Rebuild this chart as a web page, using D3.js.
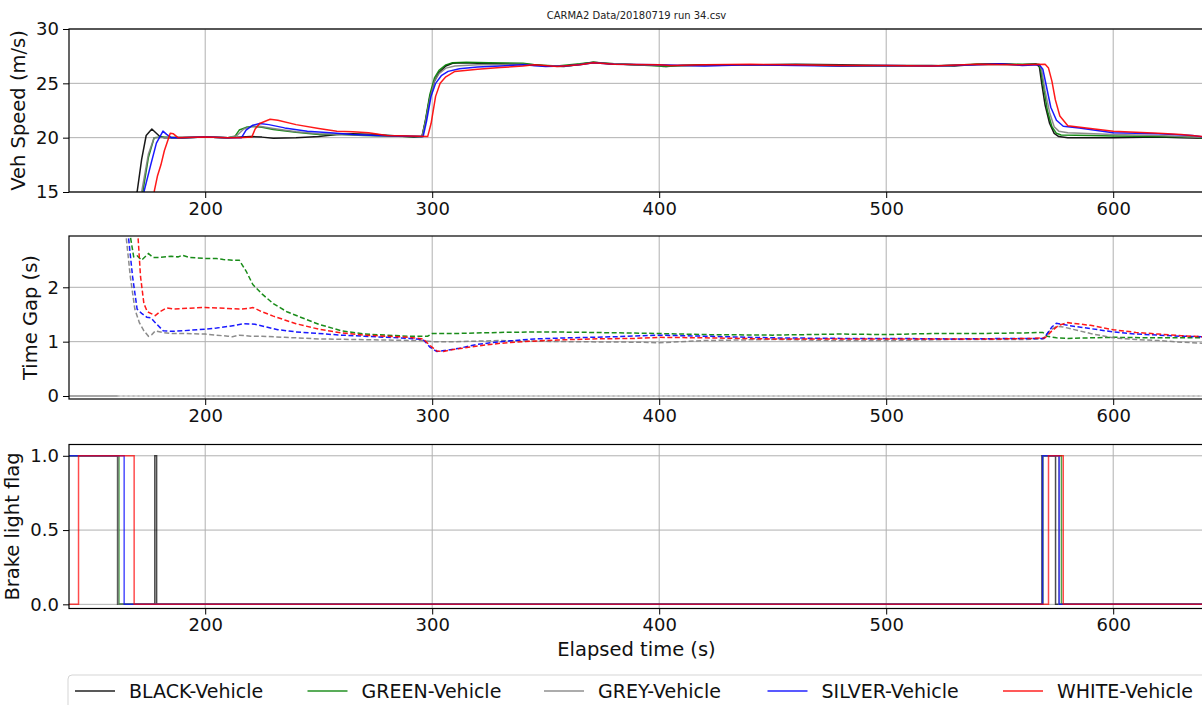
<!DOCTYPE html>
<html><head><meta charset="utf-8">
<script src="https://cdn.jsdelivr.net/npm/d3@7"></script>
<style>
body{margin:0;background:#fff;}
svg{display:block;font-family:"DejaVu Sans",sans-serif;}
</style></head>
<body><svg id="chart" width="1202" height="705"></svg>
<script>
// ---------------- DATA ----------------
const vehicles = ["BLACK-Vehicle","GREEN-Vehicle","GREY-Vehicle","SILVER-Vehicle","WHITE-Vehicle"];
const vehicleColors = ["#000000","#008000","#808080","#0000ff","#ff0000"];
const titleText = "CARMA2 Data/20180719 run 34.csv";
const xTicks = [200,300,400,500,600];
const speedTicks = [15,20,25,30];
const gapTicks = [0,1,2];
const brakeTicks = [0,0.5,1];

// Veh Speed (m/s): [time, value]
const speedBlack = [[160,8],[166,12],[170,15],[172,18],[174,20.2],[176.5,20.8],[178,20.5],[180,20.1],[182,20.0],[190,20.0],[200,20.05],[210,20.0],[220,20.1],[225,20.05],[230,19.95],[240,20.0],[250,20.1],[258,20.3],[265,20.35],[275,20.3],[285,20.15],[292,20.05],[295.5,20.1],[297,21.5],[299,23.8],[301,25.2],[303,26.0],[306,26.6],[309,26.85],[313,26.9],[320,26.85],[330,26.8],[340,26.75],[345,26.7],[350,26.6],[358,26.55],[365,26.75],[371,26.95],[378,26.8],[390,26.7],[400,26.65],[403,26.55],[410,26.65],[420,26.7],[440,26.7],[460,26.75],[480,26.7],[500,26.65],[520,26.65],[530,26.6],[540,26.75],[550,26.8],[560,26.7],[566,26.8],[567.5,26.5],[568.5,25],[570,23],[572,21.3],[574,20.4],[576,20.1],[580,20.0],[600,20.0],[620,20.05],[630,20.0],[640,19.95]];
const speedGreen = [[160,8],[168,12],[172.5,15],[175,18.2],[177.5,20.0],[180,20.05],[190,20.0],[200,20.05],[210,20.0],[213,20.1],[215,20.7],[218,20.95],[221,21.05],[225,20.95],[230,20.75],[240,20.5],[250,20.3],[260,20.3],[270,20.2],[280,20.15],[290,20.1],[295.5,20.1],[297,21.6],[299,24.0],[301,25.5],[303,26.2],[306,26.7],[309,26.9],[315,26.95],[325,26.9],[340,26.85],[345,26.7],[355,26.6],[365,26.8],[371,26.95],[380,26.8],[400,26.6],[402,26.55],[410,26.65],[430,26.7],[460,26.7],[480,26.6],[500,26.6],[520,26.6],[540,26.75],[560,26.75],[567,26.75],[568,26.3],[569.5,24.5],[571,22.5],[573,21.0],[575,20.4],[577,20.25],[590,20.2],[600,20.15],[620,20.1],[635,20.05],[640,19.95]];
const speedGrey = [[160,8],[168,12],[172,15],[175,18.5],[177.5,20.0],[190,20.05],[200,20.05],[210,20.0],[214,20.2],[217,20.8],[220,21.0],[224,21.05],[230,20.85],[240,20.55],[250,20.35],[260,20.3],[270,20.25],[285,20.15],[295.5,20.1],[297,21.4],[299,23.6],[301,25.2],[303,25.9],[306,26.4],[310,26.6],[320,26.7],[340,26.75],[345,26.65],[360,26.6],[371,26.9],[390,26.7],[410,26.6],[440,26.7],[480,26.65],[520,26.6],[540,26.7],[560,26.7],[567.5,26.75],[568.5,26.2],[570,24.3],[572,22.3],[574,21.0],[576,20.6],[580,20.45],[600,20.3],[620,20.2],[640,20.0]];
const speedSilver = [[160,8],[169,12],[173,15],[176,17.5],[178.5,19.5],[181.4,20.6],[183,20.3],[185,20.0],[190,20.0],[200,20.05],[210,20.0],[216,20.0],[218,20.7],[221,21.15],[224,21.3],[228,21.2],[235,20.9],[245,20.6],[255,20.45],[265,20.3],[275,20.2],[285,20.15],[296,20.1],[297.5,21.5],[299.5,23.8],[301.5,25.0],[304,25.7],[307,26.1],[312,26.35],[320,26.5],[330,26.6],[340,26.7],[350,26.55],[358,26.6],[365,26.7],[371,26.9],[380,26.75],[400,26.7],[420,26.6],[440,26.7],[460,26.65],[480,26.6],[500,26.65],[520,26.6],[540,26.7],[550,26.8],[560,26.65],[567.5,26.7],[569,26.3],[570.5,24.8],[572.5,22.8],[575,21.6],[578,21.05],[585,20.9],[600,20.45],[620,20.35],[635,20.2],[640,20.05]];
const speedWhite = [[160,6],[172,12],[177.5,15],[179,16.5],[180.5,17.5],[182,18.8],[184.6,20.4],[186,20.35],[188,20.0],[200,20.05],[210,20.0],[215,20.0],[220.5,20.05],[222,20.8],[224,21.3],[228.6,21.7],[232,21.6],[240,21.2],[250,20.85],[258,20.6],[265,20.55],[272,20.45],[280,20.2],[290,20.15],[298,20.1],[299.5,21.3],[301.5,23.8],[303.5,25.0],[306,25.6],[310,26.1],[320,26.3],[330,26.45],[340,26.6],[345,26.7],[355,26.55],[365,26.7],[371,26.9],[380,26.75],[400,26.7],[405,26.65],[420,26.7],[440,26.75],[460,26.7],[480,26.65],[500,26.65],[520,26.6],[540,26.75],[560,26.7],[570,26.75],[571.5,26.4],[573,25.2],[574.5,23.5],[576.5,22.0],[580,21.1],[590,20.85],[600,20.6],[620,20.4],[630,20.3],[640,20.1]];

// Time Gap (s)
const gapBlackSolid = [[140,0],[161.4,0]];
const gapBlack = [[161.4,0],[640,0]];
const gapGreen = [[163,4],[166,3.2],[168.5,2.56],[170,2.58],[172,2.5],[175,2.62],[177,2.55],[180,2.55],[185,2.57],[188,2.56],[190,2.59],[193,2.55],[200,2.53],[205,2.53],[208,2.51],[212,2.5],[215,2.5],[218,2.3],[221,2.05],[225,1.88],[230,1.7],[236,1.55],[242,1.45],[250,1.32],[260,1.2],[270,1.14],[280,1.12],[290,1.1],[298,1.1],[300,1.15],[310,1.15],[330,1.17],[350,1.18],[370,1.17],[400,1.15],[420,1.13],[450,1.12],[480,1.14],[500,1.13],[520,1.15],[540,1.15],[560,1.16],[569,1.17],[571,1.1],[575,1.07],[580,1.06],[590,1.07],[600,1.08],[620,1.07],[640,1.07]];
const gapGrey = [[163,4],[165,3.0],[167,2.2],[169,1.6],[171,1.35],[173,1.2],[175,1.1],[176.5,1.13],[178,1.2],[181,1.17],[185,1.15],[190,1.15],[200,1.14],[205,1.12],[210,1.1],[212,1.09],[215,1.12],[220,1.1],[225,1.1],[235,1.08],[250,1.05],[265,1.04],[280,1.03],[295,1.02],[300,1.0],[310,1.0],[330,1.02],[360,1.0],[390,0.99],[400,0.98],[420,1.02],[450,1.04],[480,1.02],[500,1.02],[530,1.04],[560,1.04],[569,1.05],[572,1.2],[575,1.28],[578,1.27],[585,1.2],[590,1.15],[600,1.07],[610,1.04],[620,1.02],[630,0.99],[640,0.97]];
const gapSilver = [[164,4],[166,3.0],[168,2.2],[170,1.6],[172,1.52],[174.3,1.45],[176,1.44],[178,1.35],[181.5,1.2],[185,1.19],[190,1.2],[200,1.23],[205,1.25],[210,1.28],[213,1.3],[217,1.33],[222,1.32],[226,1.28],[232,1.22],[240,1.18],[250,1.15],[260,1.12],[270,1.1],[280,1.08],[290,1.06],[296,1.04],[299,0.9],[302,0.82],[306,0.84],[312,0.88],[320,0.95],[330,1.0],[345,1.05],[360,1.07],[380,1.09],[400,1.12],[420,1.1],[450,1.07],[480,1.06],[500,1.06],[530,1.05],[560,1.06],[569.5,1.06],[571,1.15],[573,1.27],[575,1.34],[580,1.3],[590,1.24],[600,1.18],[610,1.14],[620,1.12],[630,1.1],[640,1.09]];
const gapWhite = [[168,4],[170,3.2],[171.5,2.2],[173,1.7],[174.5,1.55],[176,1.52],[178,1.48],[180,1.55],[183,1.62],[186,1.6],[190,1.61],[200,1.63],[210,1.61],[215,1.6],[219,1.61],[221,1.63],[225,1.55],[230,1.47],[235,1.4],[240,1.33],[250,1.23],[260,1.16],[270,1.12],[280,1.1],[290,1.08],[296,1.05],[299,0.93],[302,0.83],[305,0.82],[310,0.86],[320,0.92],[330,0.97],[340,1.0],[355,1.03],[370,1.05],[390,1.06],[400,1.08],[420,1.07],[450,1.05],[480,1.05],[500,1.05],[520,1.05],[550,1.05],[565,1.06],[570,1.07],[573,1.2],[576,1.3],[580,1.35],[590,1.3],[600,1.22],[610,1.17],[620,1.14],[630,1.11],[640,1.09]];

// Brake light flag (step)
const brakeBlack = [[140,1],[161.4,0],[177.8,1],[178.6,0],[568.6,1],[574.6,0],[640,0]];
const brakeGreen = [[140,1],[162,0],[569,1],[577.2,0],[640,0]];
const brakeGrey = [[140,1],[161.7,0],[569,1],[576,0],[640,0]];
const brakeSilver = [[140,1],[164.3,0],[568.9,1],[576.2,0],[640,0]];
const brakeWhite = [[140,0],[144.2,1],[168.7,0],[571.5,1],[578,0],[640,0]];

const speedSeries = [speedBlack, speedGreen, speedGrey, speedSilver, speedWhite];
const gapSeries = [null, gapGreen, gapGrey, gapSilver, gapWhite];
const brakeSeries = [brakeBlack, brakeGreen, brakeGrey, brakeSilver, brakeWhite];

// ---------------- LAYOUT ----------------
const svg = d3.select("#chart");
const X0 = 69, X1 = 1204;
const x = d3.scaleLinear().domain([140,640]).range([X0,X1]);
const panels = [
  {top:29, bottom:192, domain:[15,30], ticks:speedTicks, fmt:d3.format("d"), label:"Veh Speed (m/s)", lx:18},
  {top:236, bottom:399, domain:[-0.055,2.944], ticks:gapTicks, fmt:d3.format("d"), label:"Time Gap (s)", lx:30},
  {top:444.5, bottom:608.5, domain:[-0.028,1.076], ticks:brakeTicks, fmt:d3.format(".1f"), label:"Brake light flag", lx:12}
];
const defs = svg.append("defs");
const ALPHA = 0.65;

panels.forEach((p,i)=>{
  p.y = d3.scaleLinear().domain(p.domain).range([p.bottom,p.top]);
  const g = svg.append("g");
  defs.append("clipPath").attr("id","clip"+i).append("rect")
    .attr("x",X0).attr("y",p.top).attr("width",X1-X0).attr("height",p.bottom-p.top);
  g.selectAll(".gx").data(xTicks).join("line")
    .attr("x1",d=>x(d)).attr("x2",d=>x(d)).attr("y1",p.top).attr("y2",p.bottom)
    .attr("stroke","#b0b0b0").attr("stroke-width",1);
  g.selectAll(".gy").data(p.ticks).join("line")
    .attr("x1",X0).attr("x2",X1).attr("y1",d=>p.y(d)).attr("y2",d=>p.y(d))
    .attr("stroke","#b0b0b0").attr("stroke-width",1);
  p.plot = svg.append("g").attr("clip-path",`url(#clip${i})`);
});

// speed lines
const lineSpeed = d3.line().x(d=>x(d[0])).y(d=>panels[0].y(d[1]));
speedSeries.forEach((s,k)=>{
  panels[0].plot.append("path").datum(s).attr("d",lineSpeed)
    .attr("fill","none").attr("stroke",vehicleColors[k]).attr("stroke-opacity",0.9)
    .attr("stroke-width",1.5).attr("stroke-linejoin","round");
});

// gap lines
const lineGap = d3.line().x(d=>x(d[0])).y(d=>panels[1].y(d[1]));
panels[1].plot.append("path").datum(gapBlackSolid).attr("d",lineGap)
  .attr("fill","none").attr("stroke","#000").attr("stroke-opacity",0.3).attr("stroke-width",1.5);
panels[1].plot.append("path").datum(gapBlack).attr("d",lineGap)
  .attr("fill","none").attr("stroke","#000").attr("stroke-opacity",0.22).attr("stroke-width",1)
  .attr("stroke-dasharray","2,3");
gapSeries.forEach((s,k)=>{
  if(!s) return;
  panels[1].plot.append("path").datum(s).attr("d",lineGap)
    .attr("fill","none").attr("stroke",vehicleColors[k]).attr("stroke-opacity",0.9)
    .attr("stroke-width",1.5).attr("stroke-dasharray","5,2.5");
});

// brake lines
const lineBrake = d3.line().curve(d3.curveStepAfter).x(d=>x(d[0])).y(d=>panels[2].y(d[1]));
brakeSeries.forEach((s,k)=>{
  panels[2].plot.append("path").datum(s).attr("d",lineBrake)
    .attr("fill","none").attr("stroke",vehicleColors[k]).attr("stroke-opacity",0.7)
    .attr("stroke-width",1.5);
});

// axes, spines, labels
panels.forEach((p,i)=>{
  const g = svg.append("g");
  g.append("rect").attr("x",X0).attr("y",p.top).attr("width",X1-X0).attr("height",p.bottom-p.top)
    .attr("fill","none").attr("stroke","#000").attr("stroke-width",1.2);
  const ax = d3.axisBottom(x).tickValues(xTicks).tickSize(6).tickPadding(4).tickFormat(d3.format("d"));
  const gx = g.append("g").attr("transform",`translate(0,${p.bottom})`).call(ax);
  const ay = d3.axisLeft(p.y).tickValues(p.ticks).tickSize(6).tickPadding(4).tickFormat(p.fmt);
  const gy = g.append("g").attr("transform",`translate(${X0},0)`).call(ay);
  [gx,gy].forEach(a=>{
    a.select(".domain").remove();
    a.selectAll("text").attr("font-size",18).attr("fill","#111").attr("font-family","DejaVu Sans");
    a.selectAll("line").attr("stroke","#000");
  });
  g.append("text").attr("transform",`translate(${p.lx},${(p.top+p.bottom)/2}) rotate(-90)`)
    .attr("text-anchor","middle").attr("dominant-baseline","central")
    .attr("font-size",19.5).attr("fill","#111").text(p.label);
});

// title
svg.append("text").attr("x",(X0+X1)/2).attr("y",19).attr("text-anchor","middle")
  .attr("font-size",10).attr("fill","#222").text(titleText);
// x label
svg.append("text").attr("x",(X0+X1)/2).attr("y",656).attr("text-anchor","middle")
  .attr("font-size",19.5).attr("fill","#111").text("Elapsed time (s)");

// legend
const legendLineX = [75,307.5,544,767.5,1003];
const lg = svg.append("g");
lg.append("rect").attr("x",68).attr("y",675).attr("width",1160).attr("height",60).attr("rx",4)
  .attr("fill","#fff").attr("stroke","#d5d5d5").attr("stroke-width",1);
vehicles.forEach((v,k)=>{
  lg.append("line").attr("x1",legendLineX[k]).attr("x2",legendLineX[k]+40).attr("y1",691).attr("y2",691)
    .attr("stroke",vehicleColors[k]).attr("stroke-opacity",ALPHA).attr("stroke-width",2.2);
  lg.append("text").attr("x",legendLineX[k]+54).attr("y",698).attr("font-size",19)
    .attr("fill","#111").text(v);
});
</script></body></html>
